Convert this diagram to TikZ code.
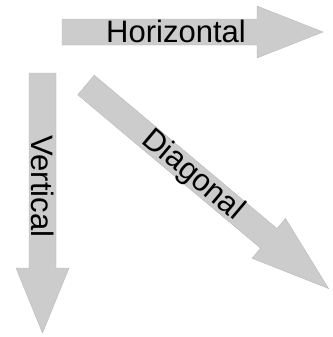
\documentclass[tikz,border=0pt]{standalone}
\usepackage{fontspec}
\setmainfont{Liberation Sans}
\definecolor{arrowfill}{RGB}{204,204,204}
\definecolor{arrowline}{RGB}{185,185,185}
\begin{document}
\begin{tikzpicture}[x=1bp,y=-1bp,
  bigarrow/.style={fill=arrowfill, draw=arrowline, line width=0.4bp, line join=miter},
  lbl/.style={inner sep=0pt, anchor=base, font=\fontsize{31bp}{37bp}\selectfont}]
\useasboundingbox (0,0) rectangle (333,337);
% Horizontal
\draw[bigarrow] (62,19) -- (257,19) -- (257,6) -- (323,32) -- (257,58) -- (257,45) -- (62,45) -- cycle;
\node[lbl] (h) at (176,42.7) {Horizontal};
% Vertical
\draw[bigarrow] (29,73) -- (29,268) -- (16,268) -- (42.5,333) -- (69,268) -- (56,268) -- (56,73) -- cycle;
\node[lbl, rotate=-90] (v) at (31.3,186.5) {Vertical};
% Diagonal
\begin{scope}[shift={(86,85)}, rotate=-40]
\draw[bigarrow] (0,-12.8) -- (238.6,-12.8) -- (238.6,-26) -- (316.6,0) -- (238.6,26) -- (238.6,12.8) -- (0,12.8) -- cycle;
\end{scope}
\node[lbl, rotate=-40] (d) at (187.5,181.5) {Diagonal};
\end{tikzpicture}
\end{document}
